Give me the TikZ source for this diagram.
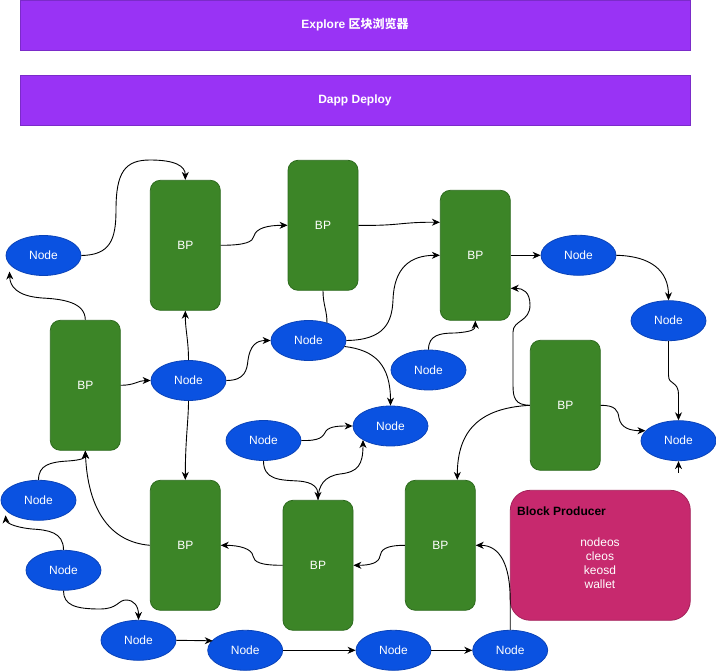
\documentclass[tikz,border=0pt]{standalone}
\usepackage{fontspec}
\setmainfont{Liberation Sans}
\newfontfamily\cjk{Noto Sans CJK SC}
\usetikzlibrary{shapes.geometric,arrows.meta,calc}
\definecolor{barfill}{HTML}{9933F5}
\definecolor{barborder}{HTML}{7B2BC9}
\definecolor{bpfill}{HTML}{3C8527}
\definecolor{bpborder}{HTML}{2D6B1E}
\definecolor{ndfill}{HTML}{0A52E1}
\definecolor{ndborder}{HTML}{0A43B8}
\definecolor{prodfill}{HTML}{C7296E}
\definecolor{prodborder}{HTML}{A3225A}
\tikzset{
  nd/.style={ellipse, draw=ndborder, fill=ndfill, line width=0.8pt, minimum width=75pt, minimum height=40pt, inner sep=0pt, text=white, font=\fontsize{12}{14}\selectfont},
  bpbox/.style={rectangle, rounded corners=10pt, draw=bpborder, fill=bpfill, line width=0.8pt, minimum width=70pt, minimum height=130pt, inner sep=0pt, text=white, font=\fontsize{12}{14}\selectfont},
  bar/.style={rectangle, draw=barborder, fill=barfill, line width=0.8pt, minimum width=670pt, minimum height=50pt, inner sep=0pt, text=white, font=\fontsize{12}{14}\selectfont\bfseries},
  arr/.style={draw=black, line width=0.9pt, -{Stealth[length=8pt,width=7pt,inset=2.5pt]}},
  ln/.style={draw=black, line width=0.9pt},
}
\begin{document}
\begin{tikzpicture}[x=1pt,y=-1pt]
\useasboundingbox (0,0) rectangle (716,671);
% bars
\node[bar] (bar1) at (355,25) {Explore {\cjk\bfseries 区块浏览器}};
\node[bar] (bar2) at (355,100) {Dapp Deploy};
% BPs
\node[bpbox] (BP1) at (185.3,245.3) {BP};
\node[bpbox] (BP2) at (323,225.3) {BP};
\node[bpbox] (BP3) at (475.3,255.3) {BP};
\node[bpbox] (BP4) at (85.3,385.3) {BP};
\node[bpbox] (BP5) at (565.3,405.3) {BP};
\node[bpbox] (BP6) at (185.3,545.3) {BP};
\node[bpbox] (BP7) at (318,565.3) {BP};
\node[bpbox] (BP8) at (440.3,545.3) {BP};
% Nodes
\node[nd] (N1) at (43.5,255.5) {Node};
\node[nd] (N2) at (188.5,380.5) {Node};
\node[nd] (N3) at (308.5,340.5) {Node};
\node[nd] (N4) at (428.5,370) {Node};
\node[nd] (N5) at (578.5,255.3) {Node};
\node[nd] (N6) at (668.5,320.7) {Node};
\node[nd] (N7) at (390.5,426) {Node};
\node[nd] (N8) at (263.5,440.5) {Node};
\node[nd] (N9) at (678.5,440.7) {Node};
\node[nd] (N10) at (38.5,500.3) {Node};
\node[nd] (N11) at (63.5,570.3) {Node};
\node[nd] (N12) at (138.5,640.3) {Node};
\node[nd] (N13) at (245.2,650.3) {Node};
\node[nd] (N14) at (393.5,650.3) {Node};
\node[nd] (N15) at (510.2,650.3) {Node};
% Block producer box
\node[rectangle, rounded corners=20pt, draw=prodborder, fill=prodfill, line width=0.8pt, minimum width=180pt, minimum height=130pt] (prod) at (600.3,555.3) {};
\node[anchor=west, font=\fontsize{12}{14}\selectfont\bfseries, text=black, inner sep=0pt] (prodtitle) at (517,511) {Block Producer};
\node[align=center, font=\fontsize{12}{14}\selectfont, text=white, inner sep=0pt] (prodtext) at (600,563) {nodeos\\cleos\\keosd\\wallet};
\coordinate (stub) at (678.5,473);
% connectors
\draw[arr] (N1.east) .. controls (110,255) and (116,240) .. (116,210) .. controls (116,172) and (125,160) .. (150,160) .. controls (175,160) and (185.3,166) .. (BP1.north);
\draw[arr] (BP1.east) .. controls (245,245.3) and (253,242) .. (254,236) .. controls (256,228) and (268,225.3) .. (BP2.west);
\draw[arr] (BP2.east) .. controls (400,226) and (400,222) .. ($(BP3.west)+(0,-33)$);
\draw[ln] (BP2.south) .. controls (323,305) and (327,310) .. ($(N3)+(18.5,-17.5)$);
\draw[arr] (N3.east) .. controls (385,340) and (392,322) .. (393,300) .. controls (394,268) and (410,255.3) .. (BP3.west);
\draw[arr] ($(N3)+(36,6)$) .. controls (375,350) and (390.5,365) .. (N7.north);
\draw[arr] (N4.north) .. controls (428.5,335) and (440,333) .. (455,333) .. controls (470,332) and (475.3,330) .. (BP3.south);
\draw[arr] (BP5.west) .. controls (515,405) and (513,398) .. (513,385) -- (513,332) .. controls (513,320) and (530,322) .. (530,305) .. controls (530,292) and (523,288.3) .. ($(BP3.east)+(0,33)$);
\draw[arr] (BP3.east) -- (N5.west);
\draw[arr] (N5.east) .. controls (650,256) and (668.5,270) .. (N6.north);
\draw[arr] (N6.south) -- (668.5,375) .. controls (668.5,386) and (678.5,380) .. (678.5,395) -- (N9.north);
\draw[arr] (BP5.east) .. controls (615,405.3) and (618,410) .. (619,418) .. controls (621,428) and (630,430.7) .. ($(N9)+(-33,-10)$);
\draw[arr] (BP5.west) .. controls (480,408) and (457.3,430) .. ($(BP8.north)+(17,0)$);
\draw[arr] (stub) -- (N9.south);
\draw[arr] (N2.north) .. controls (188.5,340) and (185.3,330) .. (BP1.south);
\draw[arr] (N2.south) .. controls (188.5,420) and (185.3,440) .. (BP6.north);
\draw[arr] (N2.east) .. controls (245,380.5) and (247,370) .. (248,360) .. controls (250,346) and (256,340.5) .. (N3.west);
\draw[arr] (BP4.east) .. controls (135,385.3) and (138,380.5) .. (N2.west);
\draw[arr] (BP4.north) .. controls (85.3,302) and (62,299) .. (42,298) .. controls (16,296) and (10,286) .. ($(N1)+(-34,16)$);
\draw[arr] (N10.north) .. controls (38.5,465) and (50,462) .. (68,461) .. controls (82,460) and (85.3,458) .. (BP4.south);
\draw[arr] (BP6.west) .. controls (110,542) and (88,510) .. (BP4.south);
\draw[arr] (N11.north) .. controls (63.5,532) and (48,530) .. (32,529) .. controls (12,527) and (6,522) .. ($(N10)+(-33,15)$);
\draw[arr] (N11.south) .. controls (63.5,605) and (75,609) .. (100,609) .. controls (118,609) and (118,600) .. (126,600) .. controls (134,600) and (138.5,606) .. (N12.north);
\draw[arr] (N12.east) -- ($(N13)+(-32.5,-9.5)$);
\draw[arr] (N13.east) -- (N14.west);
\draw[arr] (N14.east) -- (N15.west);
\draw[arr] (N15.north) -- (510.2,600) .. controls (510.2,565) and (500,545.3) .. (BP8.east);
\draw[arr] (BP8.west) .. controls (385,545.3) and (381,550) .. (380,556) .. controls (379,563) and (370,565.3) .. (BP7.east);
\draw[arr] (BP7.west) .. controls (260,565.3) and (254,562) .. (253,556) .. controls (252,549) and (240,545.3) .. (BP6.east);
\draw[arr] (N8.east) .. controls (320,441) and (323,437) .. (326,431) .. controls (330,426) and (340,426) .. (N7.west);
\draw[arr] (N8.south) .. controls (263.5,480) and (280,480) .. (298,481) .. controls (314,482) and (318,488) .. (BP7.north);
\draw[arr] (BP7.north) .. controls (318,485) and (325,476) .. (340,474) .. controls (358,472) and (363,465) .. ($(N7)+(-27.5,14)$);
\end{tikzpicture}
\end{document}
